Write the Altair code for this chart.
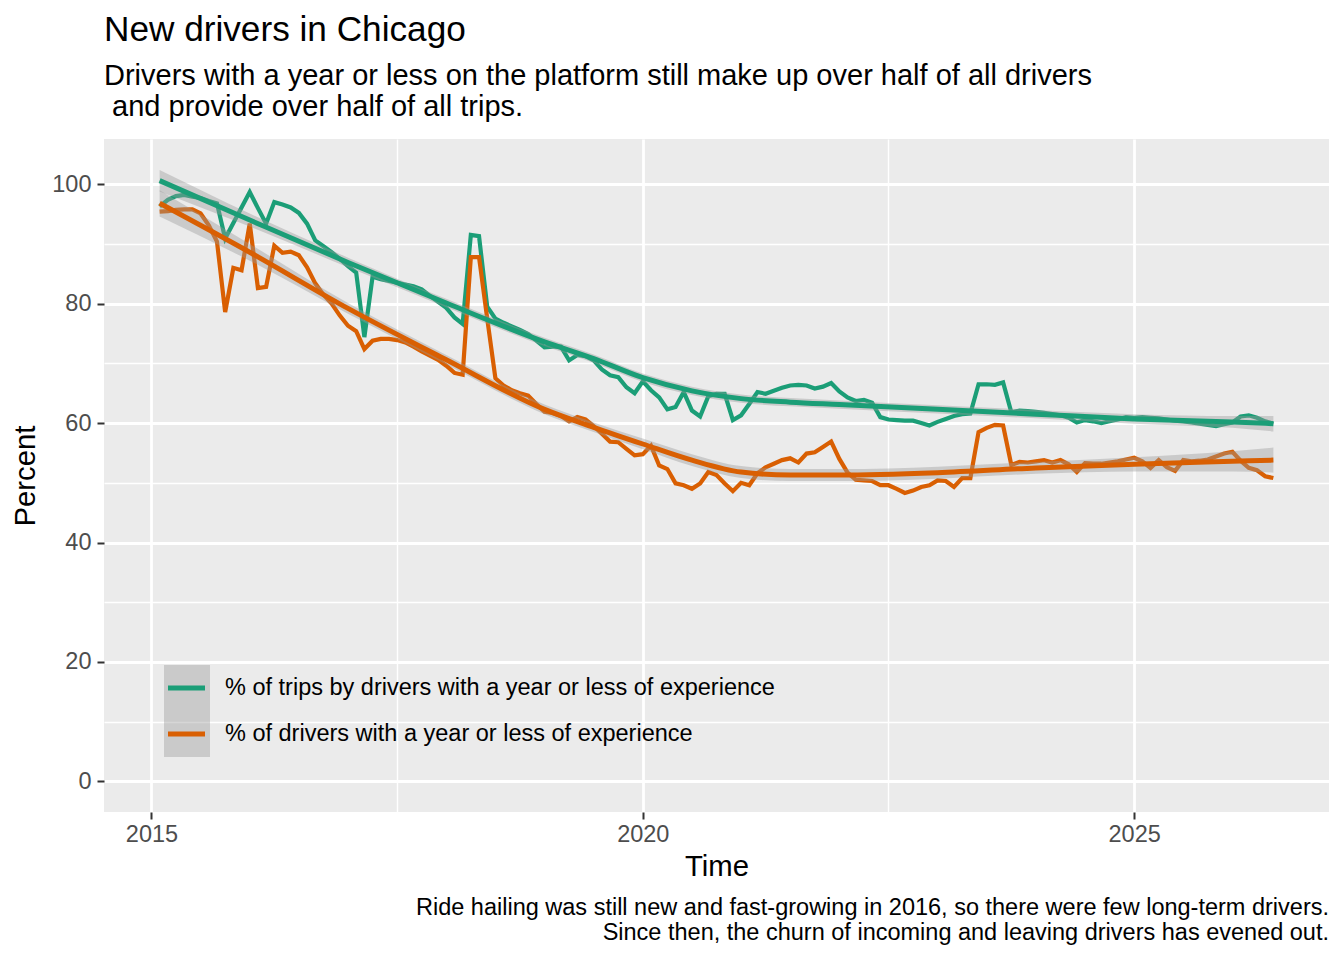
import altair as alt
import pandas as pd

FONT = "Liberation Sans"
TRIPS = "% of trips by drivers with a year or less of experience"
DRIVERS = "% of drivers with a year or less of experience"
GREEN = "#1B9E77"
ORANGE = "#D95F02"

TITLE = "New drivers in Chicago"
SUBTITLE = [
    "Drivers with a year or less on the platform still make up over half of all drivers",
    "\u200b\u00a0and provide over half of all trips.",
]
CAPTION = [
    "Ride hailing was still new and fast-growing in 2016, so there were few long-term drivers.",
    "Since then, the churn of incoming and leaving drivers has evened out.",
]

FIRST_MONTH = "2015-02-01"

trips_pct = [
    96.3, 97.4, 98.0, 98.2, 97.9, 97.7, 97.2, 96.8, 90.9, 93.5, 96.1, 98.7,
    96.0, 93.4, 97.0, 96.6, 96.1, 95.2, 93.4, 90.6, 89.6, 88.6, 87.5, 86.3,
    85.2, 74.4, 84.5, 84.1, 83.8, 83.5, 83.2, 82.9, 82.4, 81.3, 80.3, 79.3,
    77.7, 76.6, 91.5, 91.3, 79.5, 77.5, 76.8, 76.2, 75.6, 74.9, 73.8, 72.7,
    72.8, 72.8, 70.5, 71.4, 71.2, 70.5, 69.0, 68.0, 67.7, 66.0, 65.0, 67.0,
    65.5, 64.3, 62.3, 62.7, 65.2, 62.1, 61.1, 64.5, 64.9, 64.9, 60.5, 61.3,
    63.2, 65.2, 64.9, 65.4, 65.9, 66.3, 66.4, 66.3, 65.8, 66.1, 66.7, 65.3,
    64.3, 63.7, 63.9, 63.4, 61.0, 60.6, 60.5, 60.4, 60.4, 60.0, 59.6, 60.2,
    60.7, 61.2, 61.5, 61.6, 66.5, 66.5, 66.4, 66.8, 61.8, 62.1, 62.0, 61.9,
    61.7, 61.5, 61.3, 60.9, 60.1, 60.5, 60.3, 60.0, 60.3, 60.6, 61.0, 60.9,
    61.0, 60.9, 60.8, 60.6, 60.4, 60.3, 60.1, 59.9, 59.7, 59.5, 59.8, 60.1,
    61.1, 61.3, 60.9, 60.3, 59.9,
]

drivers_pct = [
    95.4, 95.5, 95.7, 95.8, 95.8, 95.1, 93.1, 90.4, 78.6, 86.0, 85.6, 93.4,
    82.6, 82.8, 89.7, 88.5, 88.7, 88.1, 86.1, 83.4, 81.5, 80.0, 78.0, 76.3,
    75.4, 72.4, 73.8, 74.1, 74.1, 73.9, 73.5, 72.8, 72.0, 71.3, 70.6, 69.6,
    68.4, 68.1, 87.8, 87.8, 77.5, 67.5, 66.3, 65.5, 65.0, 64.6, 63.2, 61.9,
    61.7, 61.2, 60.3, 61.0, 60.6, 59.5, 58.2, 56.9, 56.8, 55.7, 54.6, 54.8,
    56.2, 52.9, 52.3, 49.9, 49.6, 49.0, 49.9, 51.8, 51.3, 49.9, 48.6, 50.0,
    49.6, 51.6, 52.6, 53.2, 53.8, 54.1, 53.4, 54.9, 55.1, 56.0, 56.9, 54.0,
    51.7, 50.5, 50.4, 50.3, 49.6, 49.6, 49.0, 48.3, 48.7, 49.3, 49.6, 50.4,
    50.3, 49.3, 50.8, 50.8, 58.5, 59.2, 59.7, 59.6, 53.0, 53.5, 53.4, 53.6,
    53.8, 53.4, 53.8, 53.1, 51.8, 53.3, 53.2, 53.2, 53.4, 53.6, 53.9, 54.2,
    53.6, 52.5, 53.8, 52.6, 52.0, 53.8, 53.6, 53.7, 53.9, 54.4, 54.9, 55.2,
    53.7, 52.5, 52.1, 51.1, 50.8,
]

# loess trend and its confidence half-width
smooth_years = [2015.083, 2016, 2017, 2018, 2019, 2019.5, 2020, 2020.5,
                2021, 2021.5, 2022, 2023, 2024, 2025, 2026, 2026.417]
trips_fit = [100.6, 94.0, 86.9, 80.1, 73.6, 70.8, 67.6, 65.4,
             64.1, 63.5, 63.1, 62.3, 61.5, 60.7, 60.2, 59.9]
trips_se = [1.8, 1.1, 0.8, 0.7, 0.7, 0.7, 0.7, 0.7,
            0.7, 0.7, 0.7, 0.7, 0.7, 0.8, 1.0, 1.3]
drivers_fit = [96.8, 88.6, 79.2, 70.6, 62.3, 59.3, 56.5, 53.8,
               51.8, 51.3, 51.3, 51.7, 52.5, 53.1, 53.6, 53.8]
drivers_se = [2.2, 1.4, 0.9, 0.8, 0.8, 0.8, 0.9, 1.0,
              1.0, 1.0, 1.0, 1.0, 1.0, 1.2, 1.7, 2.1]

n = len(trips_pct)
months = pd.date_range(FIRST_MONTH, periods=n, freq="MS")
tyear = list(months.year + (months.month - 1) / 12.0)

raw = pd.DataFrame({
    "t": tyear + tyear,
    "value": trips_pct + drivers_pct,
    "series": [TRIPS] * n + [DRIVERS] * n,
})

k = len(smooth_years)
sm = pd.DataFrame({
    "t": smooth_years + smooth_years,
    "fit": trips_fit + drivers_fit,
    "se": trips_se + drivers_se,
    "series": [TRIPS] * k + [DRIVERS] * k,
    "band": ["band trips"] * k + ["band drivers"] * k,
})
sm["lo"] = sm["fit"] - sm["se"]
sm["hi"] = sm["fit"] + sm["se"]

W, H = 1225, 673
xscale = alt.Scale(domain=[2014.517, 2026.983], nice=False, zero=False)
yscale = alt.Scale(domain=[-5.12, 107.57], nice=False, zero=False)
color_scale = alt.Scale(domain=[TRIPS, DRIVERS], range=[GREEN, ORANGE])
band_scale = alt.Scale(domain=["band trips", "band drivers"], range=["#999999", "#999999"])

x_axis = alt.Axis(
    values=[2015, 2017.5, 2020, 2022.5, 2025],
    labelExpr="datum.value % 5 == 0 ? format(datum.value, 'd') : ''",
    grid=True, gridColor="white",
    gridWidth={"condition": {"test": "datum.value % 5 != 0", "value": 1.4}, "value": 2.8},
    tickOpacity={"condition": {"test": "datum.value % 5 != 0", "value": 0}, "value": 1},
    tickSize=7, tickWidth=2, tickColor="#333333", domain=False,
    labelFont=FONT, labelFontSize=23.5, labelColor="#4D4D4D", labelPadding=3,
    title="Time", titleFont=FONT, titleFontSize=29.3, titleFontWeight="normal",
    titleColor="black", titlePadding=7,
)
y_axis = alt.Axis(
    values=[0, 10, 20, 30, 40, 50, 60, 70, 80, 90, 100],
    labelExpr="datum.value % 20 == 0 ? format(datum.value, 'd') : ''",
    grid=True, gridColor="white",
    gridWidth={"condition": {"test": "datum.value % 20 != 0", "value": 1.4}, "value": 2.8},
    tickOpacity={"condition": {"test": "datum.value % 20 != 0", "value": 0}, "value": 1},
    tickSize=7, tickWidth=2, tickColor="#333333", domain=False,
    labelFont=FONT, labelFontSize=23.5, labelColor="#4D4D4D", labelPadding=6,
    title="Percent", titleFont=FONT, titleFontSize=29.3, titleFontWeight="normal",
    titleColor="black", titlePadding=11,
)

line_legend = alt.Legend(
    orient="none", legendX=61.5, legendY=526, title=None,
    symbolType="stroke", symbolSize=1369, symbolStrokeWidth=5,
    clipHeight=46, rowPadding=0, padding=0, labelOffset=17.5,
    labelFont=FONT, labelFontSize=23.5, labelColor="black", labelLimit=0,
    zindex=2,
)
band_legend = alt.Legend(
    orient="none", legendX=60, legendY=526, title=None,
    symbolType="square", symbolSize=2116, symbolStrokeWidth=0,
    symbolOpacity=0.4, symbolFillColor="#999999",
    clipHeight=46, rowPadding=0, padding=0, labelExpr="''",
    labelFontSize=1, zindex=1,
)

X = alt.X("t:Q", scale=xscale, axis=x_axis)

raw_lines = alt.Chart(raw).mark_line(strokeWidth=4.2, clip=True).encode(
    x=X,
    y=alt.Y("value:Q", scale=yscale, axis=y_axis),
    stroke=alt.Stroke("series:N", scale=color_scale, legend=line_legend),
)

ribbons = alt.Chart(sm).mark_area(opacity=0.4, interpolate="monotone", clip=True).encode(
    x=X,
    y=alt.Y("lo:Q", scale=yscale),
    y2="hi:Q",
    fill=alt.Fill("band:N", scale=band_scale, legend=band_legend),
)

smooth_lines = alt.Chart(sm).mark_line(strokeWidth=5, interpolate="monotone", clip=True).encode(
    x=X,
    y=alt.Y("fit:Q", scale=yscale),
    stroke=alt.Stroke("series:N", scale=color_scale, legend=line_legend),
)

caption = alt.Chart(pd.DataFrame({"c": [0]})).mark_text(
    text=CAPTION, align="right", baseline="alphabetic", font=FONT,
    fontSize=23.5, lineHeight=25, color="black", clip=False,
).encode(x=alt.value(W), y=alt.value(776))

chart = alt.layer(raw_lines, ribbons, smooth_lines, caption).properties(
    width=W, height=H,
    background="white",
    title=alt.TitleParams(
        text=TITLE, subtitle=SUBTITLE, anchor="start", frame="group",
        font=FONT, fontSize=35.2, fontWeight="normal", color="black",
        subtitleFont=FONT, subtitleFontSize=29.0, subtitleColor="black",
        subtitleLineHeight=31, subtitlePadding=14, offset=17,
    ),
    autosize=alt.AutoSizeParams(type="none"),
    padding={"left": 96, "top": 131, "right": 7, "bottom": 140},
).configure_view(fill="#EBEBEB", stroke=None)

chart.save("out.html", embed_options={"renderer": "svg", "actions": False})
